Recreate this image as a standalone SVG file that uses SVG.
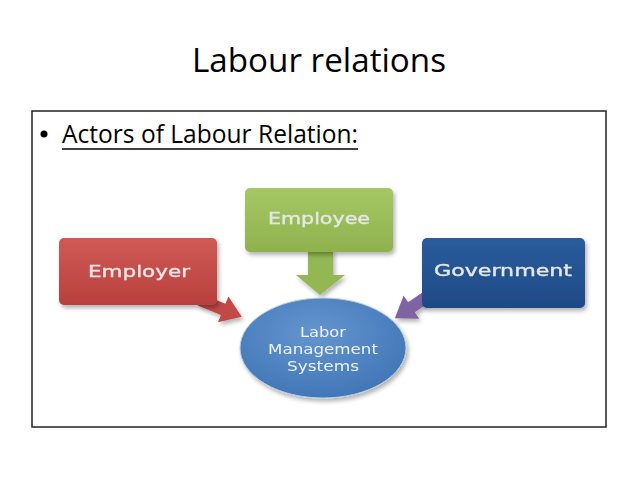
<svg xmlns="http://www.w3.org/2000/svg" width="638" height="479" viewBox="0 0 638 479">
<defs>
<style>
.title{font-family:"Open Sans","Liberation Sans",sans-serif;font-size:33px;fill:#000}
.sub{font-family:"Open Sans","Liberation Sans",sans-serif;font-size:25px;fill:#000}
.lbl{font-family:"DejaVu Sans","Liberation Sans",sans-serif;font-size:16px;fill:#e6e6e6;stroke:#e6e6e6;stroke-width:0.4;text-anchor:middle}
.clbl{font-family:"DejaVu Sans","Liberation Sans",sans-serif;font-size:14px;fill:#eef2f8;text-anchor:middle}
</style>
<linearGradient id="gRed" x1="0" y1="0" x2="0" y2="1"><stop offset="0" stop-color="#d05a56"/><stop offset="1" stop-color="#b8403d"/></linearGradient>
<linearGradient id="gGreen" x1="0" y1="0" x2="0" y2="1"><stop offset="0" stop-color="#a6c765"/><stop offset="1" stop-color="#8fb24e"/></linearGradient>
<linearGradient id="gBlue" x1="0" y1="0" x2="0" y2="1"><stop offset="0" stop-color="#2a5c9c"/><stop offset="1" stop-color="#1e4a86"/></linearGradient>
<radialGradient id="gCirc" cx="0.45" cy="0.35" r="0.7"><stop offset="0" stop-color="#6495cf"/><stop offset="1" stop-color="#3f74b5"/></radialGradient>
<filter id="sh" x="-10%" y="-10%" width="130%" height="130%"><feDropShadow dx="2" dy="3" stdDeviation="2" flood-color="#000" flood-opacity="0.3"/></filter>
</defs>
<rect width="638" height="479" fill="#fff"/>
<text class="title" x="192" y="72" textLength="254" lengthAdjust="spacingAndGlyphs">Labour relations</text>
<rect x="32" y="111" width="574" height="316" fill="none" stroke="#222" stroke-width="1.5"/>
<circle cx="44" cy="134" r="3.5" fill="#000"/>
<text class="sub" x="62" y="143" textLength="296" lengthAdjust="spacingAndGlyphs">Actors of Labour Relation:</text>
<line x1="62" y1="149" x2="358" y2="149" stroke="#000" stroke-width="1.5"/>
<g id="connectors" filter="url(#sh)">
<polygon fill="#c24a47" transform="translate(200,300) rotate(22)" points="0,-6 25,-6 25,-14 45,0 25,14 25,6 0,6"/>
<polygon fill="#93b753" points="308,250 333,250 333,275 345,275 320,295 296,275 308,275"/>
<polygon fill="#8064a2" transform="translate(428,296) rotate(146)" points="0,-6 20,-6 20,-14 40,0 20,14 20,6 0,6"/>
</g>
<g id="employer" filter="url(#sh)">
<rect x="59" y="238" width="158" height="67" rx="5" fill="url(#gRed)"/>
<text class="lbl" x="139" y="277" textLength="102" lengthAdjust="spacingAndGlyphs">Employer</text>
</g>
<g id="employee" filter="url(#sh)">
<rect x="245" y="188" width="148" height="64" rx="5" fill="url(#gGreen)"/>
<text class="lbl" x="319" y="224" textLength="102" lengthAdjust="spacingAndGlyphs">Employee</text>
</g>
<g id="government" filter="url(#sh)">
<rect x="422" y="238" width="163" height="70" rx="5" fill="url(#gBlue)"/>
<text class="lbl" x="503" y="276" textLength="138" lengthAdjust="spacingAndGlyphs">Government</text>
</g>
<g id="lms" filter="url(#sh)">
<ellipse cx="323" cy="348" rx="83" ry="50" fill="url(#gCirc)" stroke="#b8cde6" stroke-width="1"/>
<text class="clbl" x="323" y="337" textLength="46" lengthAdjust="spacingAndGlyphs">Labor</text>
<text class="clbl" x="323" y="354" textLength="110" lengthAdjust="spacingAndGlyphs">Management</text>
<text class="clbl" x="323" y="371" textLength="72" lengthAdjust="spacingAndGlyphs">Systems</text>
</g>
</svg>
